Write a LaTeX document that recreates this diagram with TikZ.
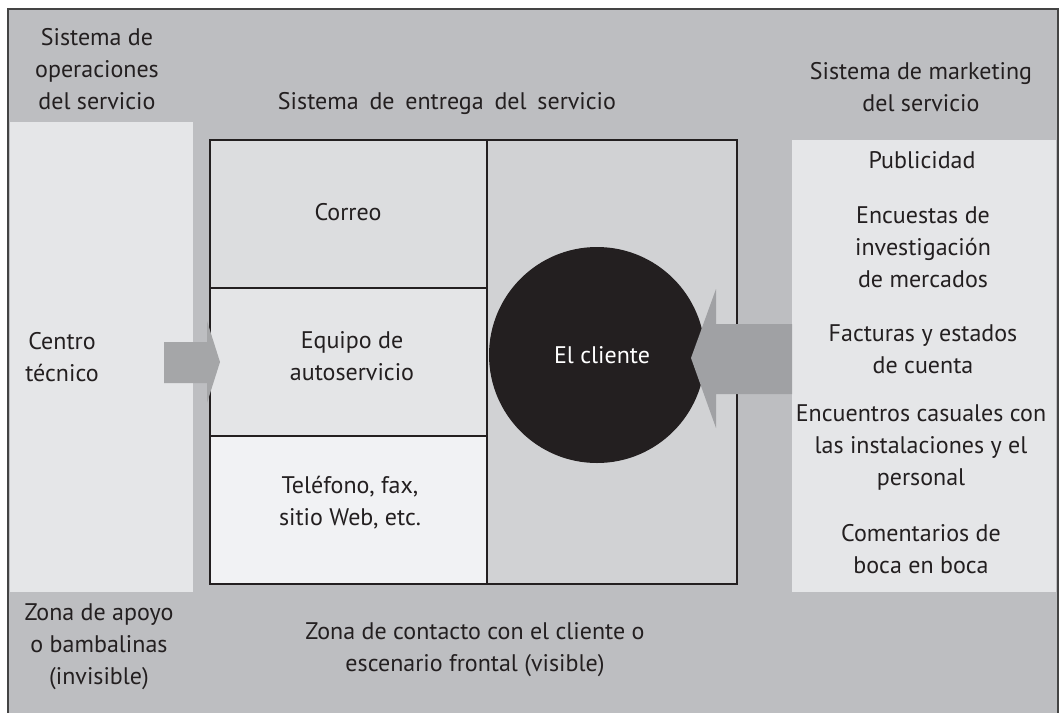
\documentclass[tikz,border=0pt]{standalone}
\usepackage{fontspec}
\setmainfont{PT Sans}
\definecolor{bgG}{HTML}{BDBEC1}
\definecolor{panelG}{HTML}{E5E6E8}
\definecolor{cellA}{HTML}{DCDDDF}
\definecolor{cellB}{HTML}{E4E5E7}
\definecolor{cellC}{HTML}{F1F2F4}
\definecolor{colR}{HTML}{D1D2D4}
\definecolor{dark}{HTML}{231F20}
\definecolor{arrR}{HTML}{A0A1A4}
\definecolor{arrL}{HTML}{A5A6A8}
\definecolor{frameC}{HTML}{444444}
\tikzset{
  lbl/.style={font=\fontsize{24}{32}\selectfont, align=center, inner sep=0pt, text=dark},
  boxline/.style={draw=dark, line width=1.8pt},
}
\begin{document}
\begin{tikzpicture}[x=1pt,y=-1pt]
\useasboundingbox (0,0) rectangle (1059,712);
% outer frame
\fill[bgG] (8,9) rectangle (1058,720);
\draw[frameC, line width=2pt] (8,720) -- (8,9) -- (1058,9) -- (1058,720);
% side panels
\fill[panelG] (10,122) rectangle (193,592);
\fill[panelG] (792,140) rectangle (1056,592);
% central box cells
\fill[cellA] (210,140) rectangle (487,288);
\fill[cellB] (210,288) rectangle (487,436);
\fill[cellC] (210,436) rectangle (487,584);
\fill[colR] (487,140) rectangle (737,584);
\draw[boxline] (210,140) rectangle (737,584);
\draw[boxline] (487,140) -- (487,584);
\draw[boxline] (210,288) -- (487,288);
\draw[boxline] (210,436) -- (487,436);
% client circle
\node[circle, fill=dark, minimum size=216pt, inner sep=0pt] (cliente) at (597,355) {};
\node[lbl, text=white] (clientetxt) at (602,355) {El cliente};
% arrows
\fill[arrR] (792,324) -- (716,324) -- (716,289) -- (691,358) -- (716,428) -- (716,394) -- (792,394) -- cycle;
\fill[arrL] (164,342) -- (207,342) -- (207,321) -- (220,362) -- (207,403) -- (207,383) -- (164,383) -- cycle;
% texts
\node[lbl] (ops) at (97,69) {Sistema de\\operaciones\\del servicio};
\node[lbl] (entrega) at (447,103) {\spaceskip=0.45em\relax Sistema de entrega del servicio};
\node[lbl] (mkt) at (921,87) {Sistema de marketing\\del servicio};
\node[lbl] (correo) at (348,212) {Correo};
\node[lbl] (equipo) at (352,356) {Equipo de\\autoservicio};
\node[lbl] (telefono) at (350,503) {Teléfono, fax,\\sitio Web, etc.};
\node[lbl] (centro) at (62,357) {Centro\\técnico};
\node[lbl] (publi) at (922,160) {Publicidad};
\node[lbl] (encuestas) at (923,247) {Encuestas de\\investigación\\de mercados};
\node[lbl] (facturas) at (923,349) {Facturas y estados\\de cuenta};
\node[lbl] (encuentros) at (921,447) {Encuentros casuales con\\las instalaciones y el\\personal};
\node[lbl] (comentarios) at (921,549) {Comentarios de\\boca en boca};
\node[lbl] (apoyo) at (99,647) {Zona de apoyo\\o bambalinas\\(invisible)};
\node[lbl] (contacto) at (475,650) {Zona de contacto con el cliente o\\escenario frontal (visible)};
\end{tikzpicture}
\end{document}
